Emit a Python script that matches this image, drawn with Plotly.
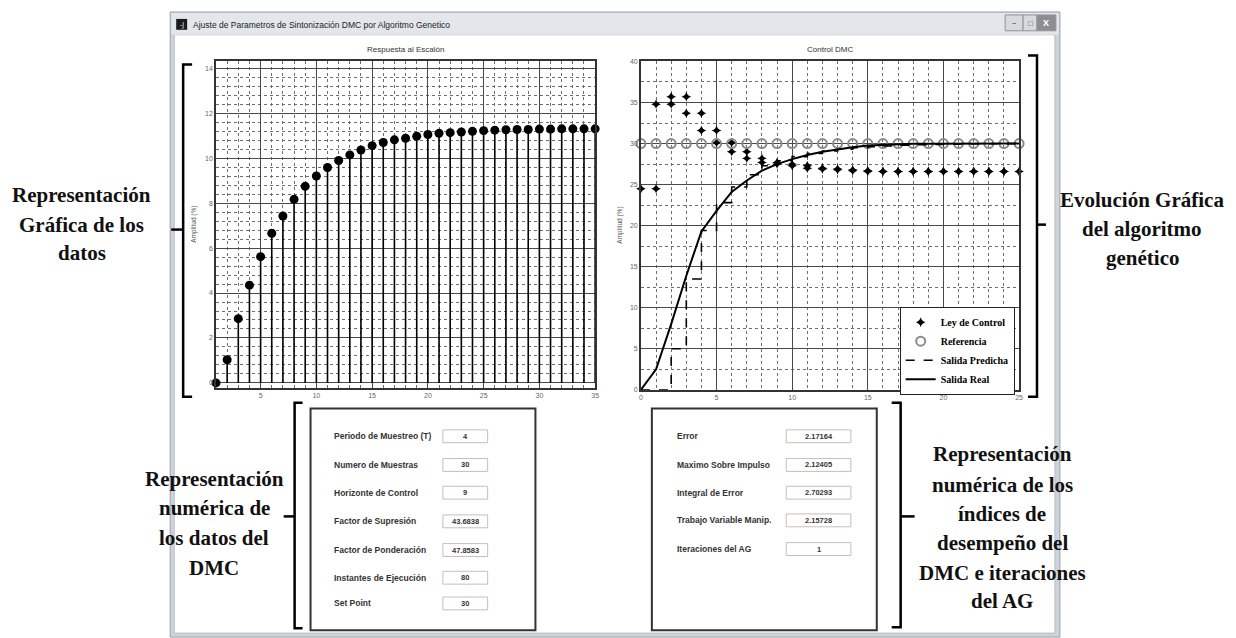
import plotly.graph_objects as go

W, H = 1236, 638
OFF = 8  # page body margin of the html page

# ---------------- data ----------------
step_x = list(range(1, 36))
step_y = [0.0, 1.03, 2.86, 4.35, 5.62, 6.66, 7.43, 8.17, 8.75, 9.21,
          9.59, 9.90, 10.15, 10.37, 10.56, 10.70, 10.82, 10.89, 10.98, 11.06,
          11.11, 11.14, 11.17, 11.20, 11.23, 11.25, 11.27, 11.28, 11.28, 11.30,
          11.30, 11.31, 11.31, 11.31, 11.31]

t = list(range(0, 26))
ley_u = [24.5, 34.8, 35.7, 33.7, 31.6, 30.1, 29.0, 28.2, 27.7, 27.5,
         27.3, 27.0, 26.9, 26.8, 26.7, 26.6, 26.6, 26.6, 26.6, 26.6,
         26.6, 26.6, 26.6, 26.6, 26.6]
ref_y = [30, 30, 30, 30, 30, 30, 30, 30, 30, 30, 30, 30, 30,
         30, 30, 30, 30, 30, 30, 30, 30, 30, 30, 30, 30, 30]
pred_y = [0, 0, 5.0, 13.5, 19.4, 22.8, 24.7, 26.2, 27.3, 27.9,
          28.4, 28.8, 29.1, 29.3, 29.5, 29.6, 29.7, 29.8, 29.85, 29.9,
          29.92, 29.95, 29.97, 29.98, 29.99, 30.0]
real_y = [0, 2.5, 8.0, 13.9, 19.3, 21.8, 24.1, 25.5, 26.7, 27.5,
          28.1, 28.6, 29.0, 29.3, 29.55, 29.75, 29.85, 29.92, 29.96, 29.98,
          30.0, 30.0, 30.0, 30.0, 30.0, 30.0]

param_labels = ["Periodo de Muestreo (T)", "Numero de Muestras", "Horizonte de Control",
                "Factor de Supresión", "Factor de Ponderación", "Instantes de Ejecución", "Set Point"]
param_values = ["4", "30", "9", "43.6838", "47.8583", "80", "30"]
index_labels = ["Error", "Maximo Sobre Impulso", "Integral de Error",
                "Trabajo Variable Manip.", "Iteraciones del AG"]
index_values = ["2.17164", "2.12405", "2.70293", "2.15728", "1"]

# ---------------- helpers ----------------
def fx(p):
    return (p - OFF) / W

def fy(p):
    return 1 - (p - OFF) / H

def path(points):
    s = ""
    for i, (x, y) in enumerate(points):
        s += ("M " if i == 0 else " L ") + f"{fx(x):.5f},{fy(y):.5f}"
    return s

# control law drawn as held steps: each value appears at start and end of its interval
ley_x, ley_y = [], []
for k, u in enumerate(ley_u):
    ley_x += [k, k + 1]
    ley_y += [u, u]

fig = go.Figure()

# left: step response (stem plot)
fig.add_trace(go.Scatter(
    x=step_x, y=step_y, mode="markers", xaxis="x", yaxis="y",
    marker=dict(color="black", size=9, symbol="circle"),
    error_y=dict(type="data", symmetric=False, array=[0] * len(step_y),
                 arrayminus=step_y, width=0, thickness=1.6, color="black"),
    cliponaxis=False, showlegend=False))

# right: DMC control
fig.add_trace(go.Scatter(
    x=ley_x, y=ley_y, mode="markers", xaxis="x2", yaxis="y2", name="Ley de Control",
    marker=dict(color="black", size=7, symbol="star-diamond"), cliponaxis=False))
fig.add_trace(go.Scatter(
    x=t, y=ref_y, mode="markers", xaxis="x2", yaxis="y2", name="Referencia",
    marker=dict(color="#8a8a8a", size=9, symbol="circle-open", line=dict(width=2, color="#8a8a8a")),
    cliponaxis=False))
fig.add_trace(go.Scatter(
    x=t, y=pred_y, mode="lines", xaxis="x2", yaxis="y2", name="Salida Predicha",
    line=dict(color="black", width=1.6, dash="dash", shape="hv")))
fig.add_trace(go.Scatter(
    x=t, y=real_y, mode="lines", xaxis="x2", yaxis="y2", name="Salida Real",
    line=dict(color="black", width=2)))

grid_major = "#4a4a4a"
grid_minor = "#6e6e6e"
tickfont = dict(size=7, color="#666", family="Liberation Sans")

def axis(domain, rng, dtick, minor_dtick, anchor):
    return dict(domain=domain, range=rng, tick0=0, dtick=dtick, anchor=anchor,
                showgrid=True, gridcolor=grid_major, gridwidth=1.2,
                minor=dict(tick0=0, dtick=minor_dtick, showgrid=True, gridcolor=grid_minor,
                           griddash="dot", gridwidth=1),
                zeroline=False, showline=True, mirror=True, linecolor="#333", linewidth=1.5,
                ticks="", tickfont=tickfont, fixedrange=True)

fig.update_layout(
    width=W, height=H, margin=dict(l=0, r=0, t=0, b=0),
    paper_bgcolor="white", plot_bgcolor="white",
    xaxis=axis([fx(215), fx(596)], [1, 35], 5, 1, "y"),
    yaxis=axis([fy(388), fy(58)], [-0.22, 14.31], 2, 0.4, "x"),
    xaxis2=axis([fx(642), fx(1022)], [0, 25], 5, 1, "y2"),
    yaxis2=axis([fy(390), fy(58)], [0, 40], 5, 2.5, "x2"),
    legend=dict(x=fx(902), y=fy(306), xanchor="left", yanchor="top",
                bgcolor="white", bordercolor="#222", borderwidth=1,
                font=dict(family="Liberation Serif", size=10, color="black", weight="bold"),
                itemwidth=30, tracegroupgap=0),
)

shapes = []
ann = []

# window chrome
shapes.append(dict(type="rect", xref="paper", yref="paper", x0=fx(169), x1=fx(1063), y0=fy(640), y1=fy(8),
                   fillcolor="#cfd4da", line=dict(color="#9aa0a8", width=1), layer="below"))
shapes.append(dict(type="rect", xref="paper", yref="paper", x0=fx(173), x1=fx(1058), y0=fy(636), y1=fy(31),
                   fillcolor="white", line=dict(color="#b8bcc2", width=1), layer="below"))
shapes.append(dict(type="rect", xref="paper", yref="paper", x0=fx(170), x1=fx(1062), y0=fy(31), y1=fy(9),
                   fillcolor="#e3e6ea", line=dict(width=0), layer="below"))
# icon
shapes.append(dict(type="rect", xref="paper", yref="paper", x0=fx(175), x1=fx(186), y0=fy(26), y1=fy(15),
                   fillcolor="#1a1a1a", line=dict(width=0)))
# window buttons
for x0, x1, col in [(1008, 1026, "#d6d9dd"), (1026, 1040, "#d6d9dd"), (1040, 1059, "#8e8e8e")]:
    shapes.append(dict(type="rect", xref="paper", yref="paper", x0=fx(x0), x1=fx(x1), y0=fy(27), y1=fy(11),
                       fillcolor=col, line=dict(color="#8f949a", width=1)))
ann.append(dict(x=fx(1017), y=fy(19), text="–", font=dict(size=9, color="#555")))
ann.append(dict(x=fx(1033), y=fy(19), text="□", font=dict(size=8, color="#555")))
ann.append(dict(x=fx(1049.5), y=fy(19), text="X", font=dict(size=9, color="white", weight="bold")))
ann.append(dict(x=fx(180.5), y=fy(20.5), text="-J", font=dict(size=7, color="white")))
ann.append(dict(x=fx(190), y=fy(21), xanchor="left",
                text="Ajuste de Parametros de Sintonización DMC por Algoritmo Genetico",
                font=dict(size=8.5, color="#222", family="Liberation Sans")))

# plot titles and axis titles
ann.append(dict(x=fx(405), y=fy(46), text="Respuesta al Escalón",
                font=dict(size=8, color="#333", family="Liberation Sans")))
ann.append(dict(x=fx(832), y=fy(46), text="Control DMC",
                font=dict(size=8, color="#333", family="Liberation Sans")))
ann.append(dict(x=fx(193), y=fy(223), text="Amplitud (%)", textangle=-90,
                font=dict(size=6.5, color="#555", family="Liberation Sans")))
ann.append(dict(x=fx(621), y=fy(224), text="Amplitud (%)", textangle=-90,
                font=dict(size=6.5, color="#555", family="Liberation Sans")))

# braces
brace = dict(color="black", width=2.5)
shapes.append(dict(type="path", xref="paper", yref="paper", path=path([(191, 61), (182, 61), (182, 397), (191, 397)]), line=brace))
shapes.append(dict(type="path", xref="paper", yref="paper", path=path([(182, 228), (170, 228)]), line=brace))
shapes.append(dict(type="path", xref="paper", yref="paper", path=path([(1031, 52), (1040, 52), (1040, 397), (1031, 397)]), line=brace))
shapes.append(dict(type="path", xref="paper", yref="paper", path=path([(1040, 223), (1049, 223)]), line=brace))
shapes.append(dict(type="path", xref="paper", yref="paper", path=path([(302, 403), (294, 403), (294, 631), (302, 631)]), line=brace))
shapes.append(dict(type="path", xref="paper", yref="paper", path=path([(294, 518), (283, 518)]), line=brace))
shapes.append(dict(type="path", xref="paper", yref="paper", path=path([(894, 403), (903, 403), (903, 630), (894, 630)]), line=brace))
shapes.append(dict(type="path", xref="paper", yref="paper", path=path([(903, 518), (917, 518)]), line=brace))

# bottom panels
shapes.append(dict(type="rect", xref="paper", yref="paper", x0=fx(310), x1=fx(536), y0=fy(633), y1=fy(409),
                   line=dict(color="#333", width=2)))
shapes.append(dict(type="rect", xref="paper", yref="paper", x0=fx(653), x1=fx(879), y0=fy(633), y1=fy(409),
                   line=dict(color="#333", width=2)))

label_font = dict(size=8.5, color="#333", family="Liberation Sans", weight="bold")
value_font = dict(size=7.5, color="#333", family="Liberation Sans", weight="bold")
left_rows = [437, 466, 494, 523, 552, 580, 606]
for lab, val, yy in zip(param_labels, param_values, left_rows):
    ann.append(dict(x=fx(332), y=fy(yy), xanchor="left", text=lab, font=label_font))
    shapes.append(dict(type="rect", xref="paper", yref="paper", x0=fx(443), x1=fx(488),
                       y0=fy(yy + 6.5), y1=fy(yy - 6.5), line=dict(color="#c9bcbc", width=1)))
    ann.append(dict(x=fx(465.5), y=fy(yy), text=val, font=value_font))
right_rows = [437, 466, 494, 522, 551]
for lab, val, yy in zip(index_labels, index_values, right_rows):
    ann.append(dict(x=fx(676), y=fy(yy), xanchor="left", text=lab, font=label_font))
    shapes.append(dict(type="rect", xref="paper", yref="paper", x0=fx(788), x1=fx(853),
                       y0=fy(yy + 6.5), y1=fy(yy - 6.5), line=dict(color="#c9bcbc", width=1)))
    ann.append(dict(x=fx(820.5), y=fy(yy), text=val, font=value_font))

# side descriptions
serif = dict(family="Liberation Serif", size=21, color="#111", weight="bold")
blocks = [
    (80, [193, 223, 252], ["Representación", "Gráfica de los", "datos"]),
    (1146, [198, 227, 257], ["Evolución Gráfica", "del algoritmo", "genético"]),
    (213, [480, 510, 540, 570], ["Representación", "numérica de", "los datos del", "DMC"]),
    (1005, [455, 486, 516, 545, 575, 604], ["Representación", "numérica de los", "índices de",
                                             "desempeño del", "DMC e iteraciones", "del AG"]),
]
for cx, ys, lines in blocks:
    for yy, txt in zip(ys, lines):
        ann.append(dict(x=fx(cx), y=fy(yy), text=txt, font=serif))

for a in ann:
    a.setdefault("xref", "paper")
    a.setdefault("yref", "paper")
    a.setdefault("showarrow", False)
    a.setdefault("xanchor", "center")
    a.setdefault("yanchor", "middle")

fig.update_layout(shapes=shapes, annotations=ann)
fig.write_html("out.html", config=dict(displayModeBar=False))
